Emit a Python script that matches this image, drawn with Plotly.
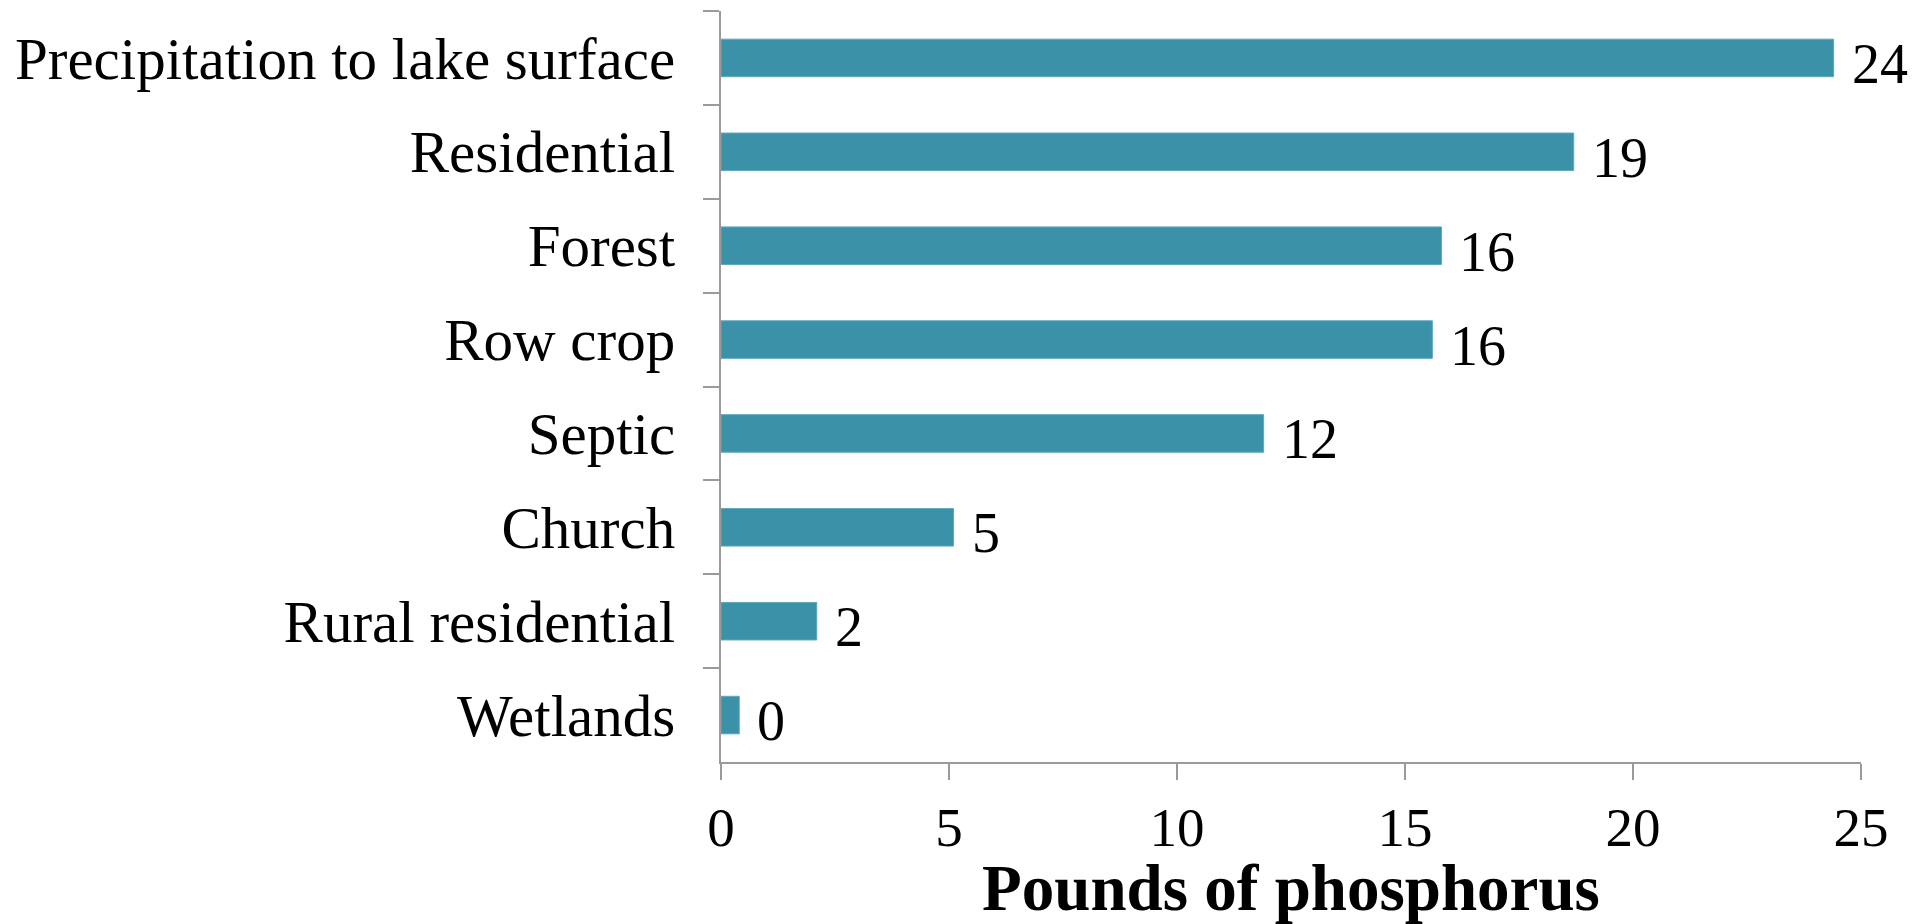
import plotly.graph_objects as go

# Phosphorus loading by source (pounds)
sources = [
    "Precipitation to lake surface",
    "Residential",
    "Forest",
    "Row crop",
    "Septic",
    "Church",
    "Rural residential",
    "Wetlands",
]
pounds = [24.4, 18.7, 15.8, 15.6, 11.9, 5.1, 2.1, 0.4]
x_ticks = [0, 5, 10, 15, 20, 25]

BAR = "#3A91A8"
AXIS = "#9A9A9A"
FONT = "Liberation Serif"

fig = go.Figure(
    go.Bar(
        x=pounds,
        y=sources,
        orientation="h",
        marker=dict(color=BAR, line=dict(color="#5FA8BC", width=1)),
        width=0.4,
        hoverinfo="skip",
    )
)

# value labels to the right of each bar
for s, v in zip(sources, pounds):
    fig.add_annotation(
        x=v, y=s, text=f"{v:.0f}", showarrow=False,
        xanchor="left", yanchor="middle", xshift=16, yshift=-6,
        font=dict(family=FONT, size=56, color="#000000"),
    )

fig.update_layout(
    width=1915,
    height=924,
    margin=dict(l=721, r=54, t=11, b=162),
    paper_bgcolor="white",
    plot_bgcolor="white",
    showlegend=False,
    font=dict(family=FONT, size=55, color="#000000"),
)

fig.update_xaxes(
    range=[0, 25],
    tickvals=x_ticks,
    ticktext=[str(t) for t in x_ticks],
    showgrid=False,
    zeroline=False,
    showline=True,
    linecolor=AXIS,
    linewidth=2,
    ticks="outside",
    ticklen=16,
    tickwidth=2,
    tickcolor=AXIS,
    ticklabelstandoff=0,
    tickfont=dict(family=FONT, size=55),
    title=dict(
        text="<b>Pounds of phosphorus</b>",
        font=dict(family=FONT, size=65),
        standoff=8,
    ),
)

fig.update_yaxes(
    categoryorder="array",
    categoryarray=sources,
    autorange=False,
    range=[7.5, -0.5],
    showgrid=False,
    zeroline=False,
    showline=True,
    linecolor=AXIS,
    linewidth=2,
    ticks="outside",
    tickson="boundaries",
    ticklen=16,
    tickwidth=2,
    tickcolor=AXIS,
    ticklabelstandoff=32,
    tickfont=dict(family=FONT, size=59),
)

fig.write_html("out.html")
